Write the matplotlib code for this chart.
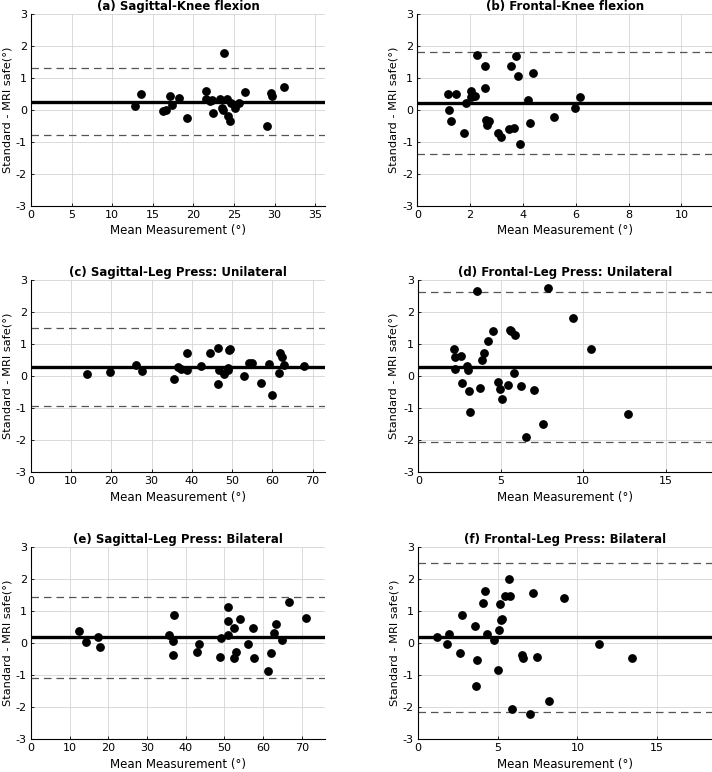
import matplotlib
matplotlib.use("Agg")
import matplotlib.pyplot as plt
import numpy as np

# (a) Sagittal-Knee flexion
a_mean = [12.8, 13.6, 16.3, 16.6, 17.1, 17.4, 18.2, 19.2, 21.6, 21.6, 22.0, 22.3, 22.4, 23.3,
          23.8, 23.5, 23.7, 24.1, 24.2, 24.5, 24.6, 25.1, 25.6, 26.4, 29.0, 29.6, 29.7, 31.2]
a_diff = [0.14, 0.51, -0.04, -0.01, 0.43, 0.16, 0.38, -0.24, 0.60, 0.35, 0.29, 0.31, -0.10, 0.35,
          1.77, 0.05, -0.01, 0.34, -0.19, -0.34, 0.22, 0.05, 0.22, 0.56, -0.51, 0.52, 0.44, 0.71]
a_lines = [0.26, 1.30, -0.79]

# (b) Frontal-Knee flexion
b_mean = [1.17, 1.21, 1.29, 1.46, 1.78, 1.84, 2.03, 2.02, 2.18, 2.27, 2.55, 2.55, 2.60, 2.63, 2.70,
          3.07, 3.18, 3.46, 3.55, 3.65, 3.74, 3.81, 3.90, 4.18, 4.28, 4.39, 5.16, 5.98, 6.15]
b_diff = [0.49, 0.0, -0.35, 0.51, -0.71, 0.22, 0.58, 0.40, 0.43, 1.71, 1.36, 0.69, -0.30, -0.46, -0.34,
          -0.71, -0.83, -0.59, 1.39, -0.55, 1.69, 1.07, -1.05, 0.31, -0.40, 1.15, -0.23, 0.05, 0.40]
b_lines = [0.21, 1.80, -1.38]

# (c) Sagittal-Leg Press: Unilateral
c_mean = [14.0, 19.7, 26.2, 27.6, 35.6, 36.5, 37.4, 38.7, 38.9, 42.3, 44.5, 46.6, 46.6, 46.7, 48.0,
          49.0, 49.3, 49.5, 49.1, 52.9, 54.3, 54.9, 57.3, 59.1, 59.8, 61.6, 61.9, 62.5, 63.0, 68.0]
c_diff = [0.07, 0.13, 0.34, 0.15, -0.08, 0.27, 0.22, 0.20, 0.73, 0.33, 0.72, 0.87, -0.24, 0.19, 0.07,
          0.19, 0.82, 0.85, 0.24, 0.0, 0.40, 0.40, -0.20, 0.37, -0.58, 0.10, 0.71, 0.61, 0.34, 0.32]
c_lines = [0.29, 1.50, -0.92]

# (d) Frontal-Leg Press: Unilateral
d_mean = [2.14, 2.22, 2.24, 2.61, 2.65, 2.95, 3.03, 3.09, 3.15, 3.58, 3.74, 3.84, 3.96, 4.24, 4.53, 4.85,
          4.97, 5.09, 5.43, 5.56, 5.64, 5.80, 5.88, 6.20, 6.55, 6.99, 7.56, 7.86, 9.35, 10.44, 12.73]
d_diff = [0.86, 0.61, 0.22, 0.62, -0.22, 0.32, 0.18, -0.46, -1.11, 2.65, -0.37, 0.50, 0.71, 1.09, 1.40, -0.18,
          -0.40, -0.71, -0.29, 1.43, 1.42, 0.11, 1.29, -0.32, -1.91, -0.44, -1.48, 2.75, 1.80, 0.86, -1.18]
d_lines = [0.29, 2.61, -2.06]

# (e) Sagittal-Leg Press: Bilateral
e_mean = [12.5, 14.1, 17.2, 17.9, 35.6, 36.6, 36.8, 37.0, 42.8, 43.4, 48.9, 49.1, 50.8, 50.9, 50.9,
          52.5, 52.6, 53.0, 54.0, 56.1, 57.4, 57.7, 61.2, 62.0, 62.8, 63.3, 64.9, 66.6, 71.0]
e_diff = [0.40, 0.03, 0.21, -0.10, 0.26, 0.07, -0.35, 0.89, -0.27, -0.01, -0.42, 0.17, 0.69, 1.13, 0.26,
          0.48, -0.47, -0.28, 0.75, -0.02, 0.48, -0.47, -0.875, -0.29, 0.33, 0.61, 0.11, 1.30, 0.80]
e_lines = [0.20, 1.44, -1.07]

# (f) Frontal-Leg Press: Bilateral
f_mean = [1.21, 1.82, 1.92, 2.66, 2.76, 3.58, 3.62, 3.68, 4.08, 4.18, 4.33, 4.79, 5.02, 5.10, 5.15,
          5.19, 5.27, 5.46, 5.71, 5.75, 5.92, 6.51, 6.57, 7.01, 7.20, 7.49, 8.20, 9.14, 11.34, 13.41]
f_diff = [0.19, -0.01, 0.29, -0.29, 0.875, 0.55, -1.32, -0.52, 1.27, 1.625, 0.30, 0.11, -0.82, 0.41, 1.23,
          0.73, 0.76, 1.48, 2.0, 1.48, -2.06, -0.36, -0.46, -2.21, 1.57, -0.43, -1.81, 1.41, -0.03, -0.46]
f_lines = [0.19, 2.51, -2.14]

titles = ['(a) Sagittal-Knee flexion', '(b) Frontal-Knee flexion',
          '(c) Sagittal-Leg Press: Unilateral', '(d) Frontal-Leg Press: Unilateral',
          '(e) Sagittal-Leg Press: Bilateral', '(f) Frontal-Leg Press: Bilateral']
xmax = [36.2, 11.16, 73.1, 17.8, 76.0, 18.45]
xticks = [np.arange(0, 36, 5), np.arange(0, 11, 2), np.arange(0, 71, 10),
          np.arange(0, 16, 5), np.arange(0, 71, 10), np.arange(0, 16, 5)]

panels = [(a_mean, a_diff, a_lines), (b_mean, b_diff, b_lines),
          (c_mean, c_diff, c_lines), (d_mean, d_diff, d_lines),
          (e_mean, e_diff, e_lines), (f_mean, f_diff, f_lines)]

W, H = 712, 772
# axes boxes in pixels: left, top, right, bottom
boxes = [(31, 14, 325, 206), (417.3, 14, 712, 206),
         (31, 280, 325, 472.3), (418.3, 280, 712, 472.3),
         (31, 547.3, 325, 739.3), (418, 547.3, 712, 739.3)]
ylabel_x = [13, 399, 13, 399, 13, 399]  # right edge of rotated y label, px

plt.rcParams['font.family'] = 'DejaVu Sans'
plt.rcParams['axes.unicode_minus'] = False
fig = plt.figure(figsize=(W / 100, H / 100), dpi=100)

for i, (m, d, lines) in enumerate(panels):
    l, t, r, b = boxes[i]
    ax = fig.add_axes([l / W, 1 - b / H, (r - l) / W, (b - t) / H])
    ax.grid(True, color='#d4d4d4', linewidth=0.6)
    ax.set_axisbelow(True)
    ax.axhline(lines[0], color='black', linewidth=2.4, zorder=2)
    ax.axhline(lines[1], color='#555555', linewidth=0.9, dashes=(6, 4), zorder=2)
    ax.axhline(lines[2], color='#555555', linewidth=0.9, dashes=(6, 4), zorder=2)
    ax.plot(m, d, 'o', color='black', markersize=5.3, zorder=3)
    ax.set_xlim(0, xmax[i])
    ax.set_ylim(-3, 3)
    ax.set_xticks(xticks[i])
    ax.set_yticks(np.arange(-3, 4, 1))
    ax.spines['top'].set_visible(False)
    ax.spines['right'].set_visible(False)
    ax.spines['left'].set_linewidth(0.8)
    ax.spines['bottom'].set_linewidth(0.8)
    ax.tick_params(direction='in', length=2.5, width=0.6, labelsize=8, pad=3)
    ax.set_title(titles[i], fontsize=8.5, fontweight='bold', pad=3)
    ax.set_xlabel('Mean Measurement (°)', fontsize=8.5, labelpad=3)
    ax.set_ylabel('Standard - MRI safe(°)', fontsize=8.2)
    ax.yaxis.set_label_coords((ylabel_x[i] - l) / (r - l), 0.5)

fig.savefig('out.png', dpi=100)
